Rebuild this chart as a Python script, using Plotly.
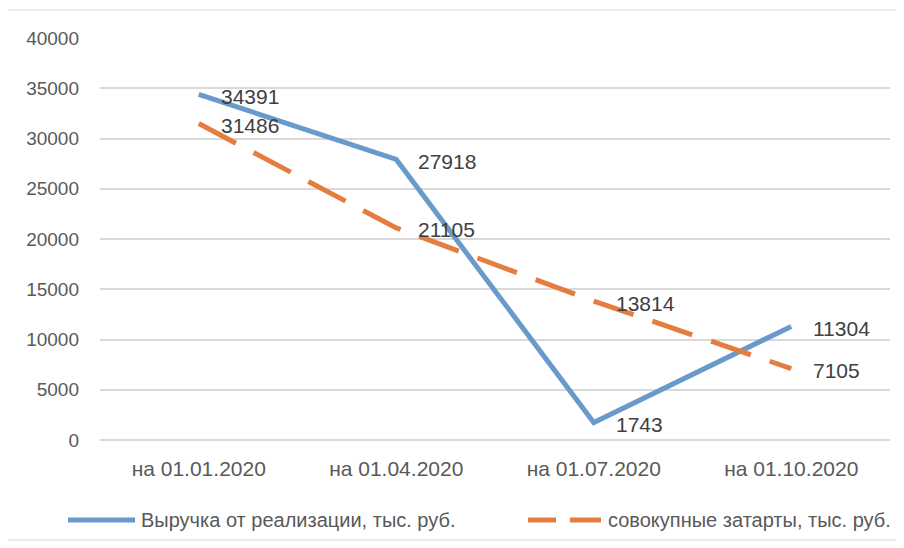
import plotly.graph_objects as go

categories = ["на 01.01.2020", "на 01.04.2020", "на 01.07.2020", "на 01.10.2020"]
revenue = [34391, 27918, 1743, 11304]
costs = [31486, 21105, 13814, 7105]
revenue_name = "Выручка от реализации, тыс. руб."
costs_name = "совокупные затарты, тыс. руб."
y_ticks = [0, 5000, 10000, 15000, 20000, 25000, 30000, 35000, 40000]

BLUE = "#6A9ACB"
ORANGE = "#E57D41"
TXT = "#595959"
LBL = "#404040"
FONT = "Liberation Sans, Arial, sans-serif"

# page body margin offset in the browser
OFF = 8
W, H = 904, 548
# plot area in reference pixels: x 100..890, y 38..440
L, R, T, B = 100 - OFF, 890 - OFF, 38 - OFF, 440 - OFF


def px_x(px):
    return (px - OFF - L) / (R - L)


def px_y(py):
    return (B - (py - OFF)) / (B - T)


fig = go.Figure()
fig.add_trace(go.Scatter(
    x=categories, y=revenue, name=revenue_name, mode="lines",
    line=dict(color=BLUE, width=5), showlegend=False,
))
fig.add_trace(go.Scatter(
    x=categories, y=costs, name=costs_name, mode="lines",
    line=dict(color=ORANGE, width=5, dash="42px,20px"), showlegend=False,
))

annotations = []
for series in (revenue, costs):
    for c, v in zip(categories, series):
        annotations.append(dict(
            x=c, y=v, xref="x", yref="y", text=str(v), showarrow=False,
            xanchor="left", yanchor="middle", xshift=20, yshift=-2,
            font=dict(size=21, color=LBL, family=FONT),
        ))

# custom legend
leg_y = px_y(520)
annotations.append(dict(x=px_x(139), y=leg_y, xref="paper", yref="paper", text=revenue_name,
                        showarrow=False, xanchor="left", yanchor="middle",
                        font=dict(size=20, color=TXT, family=FONT)))
annotations.append(dict(x=px_x(606), y=leg_y, xref="paper", yref="paper", text=costs_name,
                        showarrow=False, xanchor="left", yanchor="middle",
                        font=dict(size=20, color=TXT, family=FONT)))

shapes = [
    dict(type="rect", xref="paper", yref="paper",
         x0=px_x(6), x1=px_x(897), y0=px_y(540), y1=px_y(10),
         line=dict(color="#D9D9D9", width=1), layer="below"),
    dict(type="line", xref="paper", yref="paper", x0=px_x(68), x1=px_x(135), y0=leg_y, y1=leg_y,
         line=dict(color=BLUE, width=5)),
    dict(type="line", xref="paper", yref="paper", x0=px_x(528), x1=px_x(556), y0=leg_y, y1=leg_y,
         line=dict(color=ORANGE, width=5)),
    dict(type="line", xref="paper", yref="paper", x0=px_x(570), x1=px_x(601), y0=leg_y, y1=leg_y,
         line=dict(color=ORANGE, width=5)),
]

fig.update_layout(
    width=W, height=H,
    margin=dict(l=L, r=W - R, t=T, b=H - B, autoexpand=False),
    paper_bgcolor="white", plot_bgcolor="white",
    font=dict(family=FONT, color=TXT, size=16),
    showlegend=False,
    xaxis=dict(type="category", range=[-0.5, 3.5], showgrid=False, showline=False,
               ticks="", automargin=False, ticklabelstandoff=14,
               tickfont=dict(size=21, color=TXT, family=FONT)),
    yaxis=dict(range=[0, 40000], tickvals=y_ticks, ticktext=[str(v) for v in y_ticks],
               showgrid=True, gridcolor="#D9D9D9", gridwidth=1.5, zeroline=True,
               zerolinecolor="#D9D9D9", zerolinewidth=1.5, showline=False, ticks="",
               automargin=False, ticklabelstandoff=20,
               tickfont=dict(size=19, color=TXT, family=FONT)),
    shapes=shapes,
    annotations=annotations,
)

fig.write_html("out.html")
